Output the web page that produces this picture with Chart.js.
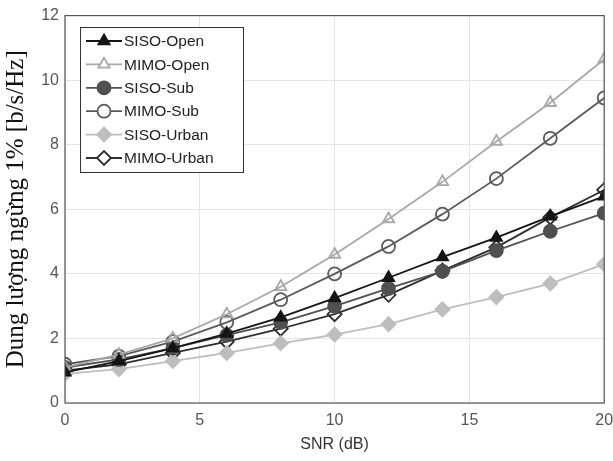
<!DOCTYPE html>
<html>
<head>
<meta charset="utf-8">
<script src="https://cdn.jsdelivr.net/npm/chart.js@4"></script>
<style>
  body { margin: 0; background: #fff; }
  #wrap { width: 613px; height: 461px; }
</style>
</head>
<body>
<div id="wrap"><canvas id="snr-chart" width="613" height="461"></canvas></div>
<script>
const snr = [0, 2, 4, 6, 8, 10, 12, 14, 16, 18, 20];
const sisoOpen = [0.95, 1.3, 1.7, 2.15, 2.65, 3.25, 3.88, 4.52, 5.12, 5.78, 6.4];
const mimoOpen = [1.1, 1.5, 2.0, 2.75, 3.6, 4.6, 5.7, 6.85, 8.1, 9.3, 10.65];
const sisoSub = [1.1, 1.35, 1.7, 2.1, 2.5, 3.0, 3.55, 4.08, 4.72, 5.32, 5.88];
const mimoSub = [1.2, 1.45, 1.9, 2.5, 3.2, 4.0, 4.85, 5.85, 6.95, 8.2, 9.45];
const sisoUrban = [0.9, 1.05, 1.3, 1.55, 1.85, 2.12, 2.44, 2.9, 3.28, 3.7, 4.3];
const mimoUrban = [1.0, 1.2, 1.55, 1.9, 2.3, 2.75, 3.35, 4.1, 4.82, 5.75, 6.6];
const seriesNames = ["SISO-Open", "MIMO-Open", "SISO-Sub", "MIMO-Sub", "SISO-Urban", "MIMO-Urban"];
const xTicks = [0, 5, 10, 15, 20];

function pts(values) {
  return values.map((v, i) => ({ x: snr[i], y: v }));
}

function makeSet(label, values, color, style, filled) {
  return {
    label: label,
    data: pts(values),
    borderColor: color,
    backgroundColor: filled ? color : "transparent",
    pointStyle: style,
    pointRadius: style === "rectRot" ? 7 : 6.5,
    pointBorderWidth: 1.8,
    pointBackgroundColor: filled ? color : "transparent",
    borderWidth: 1.8,
    tension: 0,
  };
}

const datasets = [
  makeSet(seriesNames[0], sisoOpen, "#151515", "triangle", true),
  makeSet(seriesNames[1], mimoOpen, "#a8a8a8", "triangle", false),
  makeSet(seriesNames[2], sisoSub, "#505050", "circle", true),
  makeSet(seriesNames[3], mimoSub, "#5a5a5a", "circle", false),
  makeSet(seriesNames[4], sisoUrban, "#bdbdbd", "rectRot", true),
  makeSet(seriesNames[5], mimoUrban, "#2e2e2e", "rectRot", false),
];

// box round the plot area and a hand drawn legend in the top left
const boxAndLegend = {
  id: "boxAndLegend",
  afterDatasetsDraw(chart) {
    const ctx = chart.ctx;
    const a = chart.chartArea;
    ctx.save();
    ctx.strokeStyle = "#555";
    ctx.lineWidth = 1.2;
    ctx.strokeRect(a.left, a.top, a.right - a.left, a.bottom - a.top);

    const bx = 80, by = 27, bw = 163, bh = 145;
    ctx.fillStyle = "#fff";
    ctx.fillRect(bx, by, bw, bh);
    ctx.strokeStyle = "#333";
    ctx.lineWidth = 1;
    ctx.strokeRect(bx + 0.5, by + 0.5, bw, bh);

    ctx.font = "15.5px 'Liberation Sans', Arial, sans-serif";
    ctx.textBaseline = "middle";
    chart.data.datasets.forEach((ds, i) => {
      const y = by + 14 + i * 23.4;
      ctx.strokeStyle = ds.borderColor;
      ctx.lineWidth = ds.borderWidth;
      ctx.beginPath();
      ctx.moveTo(bx + 6, y);
      ctx.lineTo(bx + 42, y);
      ctx.stroke();
      ctx.fillStyle = ds.pointBackgroundColor === "transparent" ? "#fff" : ds.pointBackgroundColor;
      ctx.strokeStyle = ds.borderColor;
      ctx.lineWidth = ds.pointBorderWidth;
      Chart.helpers.drawPoint(ctx, {
        pointStyle: ds.pointStyle,
        radius: ds.pointRadius,
        borderWidth: ds.pointBorderWidth,
        rotation: 0,
      }, bx + 24, y);
      ctx.fillStyle = "#222";
      ctx.fillText(ds.label, bx + 44, y + 1);
    });
    ctx.restore();
  },
};

const chart = new Chart(document.getElementById("snr-chart"), {
  type: "line",
  data: { datasets: datasets },
  options: {
    responsive: false,
    animation: false,
    layout: { padding: { top: 14, right: 0, left: 0, bottom: 0 } },
    plugins: { legend: { display: false }, tooltip: { enabled: false } },
    scales: {
      x: {
        type: "linear",
        min: 0,
        max: 20,
        afterBuildTicks: (s) => { s.ticks = xTicks.map((v) => ({ value: v })); },
        afterFit: (s) => { s.height = 58; s.paddingRight = 8; },
        grid: { color: "#e4e4e4", drawTicks: false },
        border: { display: false },
        ticks: { color: "#555", padding: 8, font: { family: "'Liberation Sans', Arial", size: 16 } },
        title: {
          display: true,
          text: "SNR (dB)",
          color: "#333",
          padding: { top: 2, bottom: 7 },
          font: { family: "'Liberation Sans', Arial", size: 16 },
        },
      },
      y: {
        min: 0,
        max: 12,
        ticks: { stepSize: 2, color: "#555", padding: 6, font: { family: "'Liberation Sans', Arial", size: 16 } },
        afterFit: (s) => { s.width = 65; },
        grid: { color: "#e4e4e4", drawTicks: false },
        border: { display: false },
        title: {
          display: true,
          text: "Dung lượng ngừng 1% [b/s/Hz]",
          color: "#111",
          padding: { top: 1, bottom: 0 },
          font: { family: "'Liberation Serif', 'Times New Roman', serif", size: 25 },
        },
      },
    },
  },
  plugins: [boxAndLegend],
});
</script>
</body>
</html>
